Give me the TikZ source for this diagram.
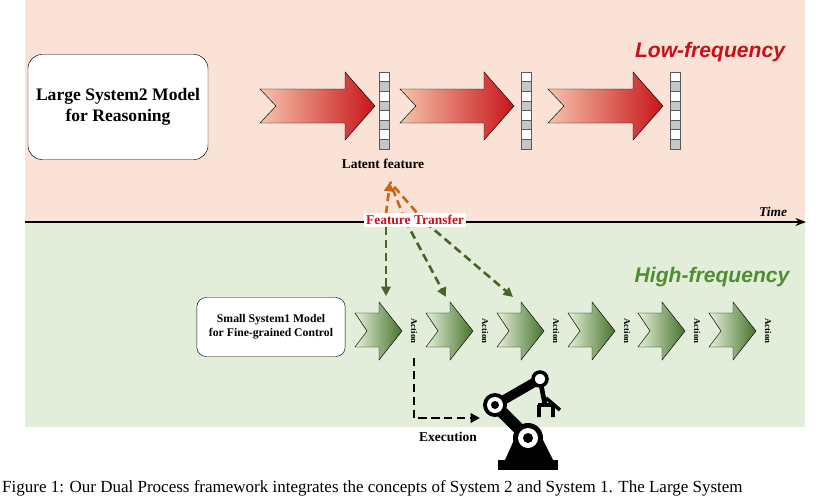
\documentclass[tikz,border=0pt]{standalone}
\usepackage{fontspec}
\setmainfont{Liberation Serif}
\newfontfamily\arialfont{Liberation Sans}
\usetikzlibrary{arrows.meta}
\definecolor{pinkbg}{RGB}{250,226,214}
\definecolor{greenbg}{RGB}{226,238,218}
\definecolor{lowred}{RGB}{200,16,24}
\definecolor{highgreen}{RGB}{80,140,50}
\definecolor{transorange}{RGB}{200,100,20}
\definecolor{transgreen}{RGB}{70,100,35}
\definecolor{arrowpale}{RGB}{246,196,170}
\definecolor{arrowdark}{RGB}{200,20,25}
\definecolor{chevpale}{RGB}{228,240,215}
\definecolor{chevdark}{RGB}{70,115,45}
\begin{document}
\begin{tikzpicture}[x=0.03cm, y=-0.03cm,
    model/.style={draw, rounded corners=12pt, fill=white, align=center, font=\bfseries},
    freq/.style={font=\arialfont\bfseries\itshape\fontsize{18}{21}\selectfont},
    act/.style={rotate=-90, font=\bfseries\fontsize{7.5}{8}\selectfont},
    lbl/.style={font=\bfseries\fontsize{11.5}{13}\selectfont},
    transfer/.style={line width=2.2pt, dash pattern=on 7pt off 4pt}
]
    \useasboundingbox (0,0) rectangle (840,500);
    % Background bands
    \fill[pinkbg] (25,0) rectangle (805,222);
    \fill[greenbg] (25,222) rectangle (805,427);
    \draw[line width=1.8pt, -{Stealth[length=9pt]}] (25,222) -- (806,222);
    \node[font=\bfseries\itshape\fontsize{11.5}{13}\selectfont] (time) at (773,212) {Time};

    \node[freq, text=lowred] (low) at (710,52) {Low-frequency};
    \node[freq, text=highgreen] (high) at (712,277) {High-frequency};

    \node[model, minimum width=5.4cm, minimum height=3.15cm, font=\bfseries\fontsize{15}{18}\selectfont] (large) at (118,107) {Large System2 Model\\for Reasoning};
    \node[model, rounded corners=8pt, minimum width=4.45cm, minimum height=1.77cm, font=\bfseries\fontsize{10}{12}\selectfont] (small) at (271,327) {Small System1 Model\\for Fine-grained Control};

    % Slow reasoning arrows and latent features
    \foreach \xa/\xb in {260/375, 400/514, 548/663} {
        \draw[left color=arrowpale, right color=arrowdark]
            (\xa,89) -- (\xb-30,89) -- (\xb-30,72) -- (\xb,106) -- (\xb-30,140)
            -- (\xb-30,123) -- (\xa,123) -- (\xa+16,106) -- cycle;
    }
    \foreach \xc/\name in {379/feat1, 521/feat2, 670/feat3} {
        \foreach \i in {0,...,7} {
            \pgfmathtruncatemacro{\odd}{mod(\i,2)}
            \ifnum\odd=1 \def\cellcol{gray!45}\else\def\cellcol{white}\fi
            \draw[fill=\cellcol, draw=gray!70!black] (\xc,72+\i*9.6) rectangle (\xc+10,72+\i*9.6+9.6);
        }
        \coordinate (\name) at (\xc+5,154);
    }
    \node[lbl] (latent) at (383,164) {Latent feature};

    % Fast action chevrons
    \foreach \xa/\n in {355/1, 426/2, 497/3, 568/4, 638/5, 709/6} {
        \draw[left color=chevpale, right color=chevdark]
            (\xa,313) -- (\xa+24,313) -- (\xa+24,302) -- (\xa+47,331) -- (\xa+24,360)
            -- (\xa+24,347) -- (\xa,347) -- (\xa+12,331) -- cycle;
        \node[act] (act\n) at (\xa+59,331) {Action};
    }

    % Feature transfer
    \coordinate (src) at (390,182);
    \coordinate (t1) at (386,214);
    \coordinate (t2) at (405,220);
    \coordinate (t3) at (425,222);
    \draw[transfer, transorange, -{Triangle[length=8pt,width=8pt]}] (t1) -- (src);
    \draw[transfer, transorange] (t2) -- (src);
    \draw[transfer, transorange] (t3) -- (src);
    \coordinate (e1) at (386,296);
    \coordinate (e2) at (446,297);
    \coordinate (e3) at (513,297);
    \draw[transfer, transgreen, -{Triangle[length=8pt,width=8pt]}] (t1) -- (e1);
    \draw[transfer, transgreen, -{Triangle[length=8pt,width=8pt]}] (t2) -- (e2);
    \draw[transfer, transgreen, -{Triangle[length=8pt,width=8pt]}] (t3) -- (e3);
    \node[fill=white, text=lowred, lbl, inner sep=2pt] (ftrans) at (415,220) {Feature Transfer};

    % Execution
    \coordinate (turn) at (414,418);
    \coordinate (robotin) at (480,418);
    \draw[transfer, black, -{Triangle[length=8pt,width=8pt]}] (414,358) -- (turn) -- (robotin);
    \node[lbl] (exec) at (448,437) {Execution};

    % Robot arm
    \fill[black] (498,460) rectangle (558,470);
    \fill[black] (505,460) -- (514,440) -- (543,440) -- (553,460) -- cycle;
    \draw[line width=10pt] (528,438) -- (495,405);
    \draw[line width=8pt] (495,405) -- (540,379);
    \draw[line width=4pt] (540,379) -- (545,405);
    \draw[line width=3pt] (538,405) -- (554,405) (539,405) -- (539,417) (553,405) -- (553,417) (546,398) -- (560,410);
    \fill[black] (528,438) circle (15);
    \fill[white] (528,438) circle (10);
    \fill[black] (528,438) circle (5);
    \fill[black] (495,405) circle (12);
    \fill[white] (495,405) circle (8);
    \fill[black] (495,405) circle (4);
    \draw[line width=3pt, fill=white] (540,379) circle (7);

    % Caption
    \node[anchor=west, font=\fontsize{14.5}{16}\selectfont, inner sep=0pt] (caption) at (2,488) {Figure 1: Our Dual Process framework integrates the concepts of System 2 and System 1. The Large System};
\end{tikzpicture}
\end{document}
